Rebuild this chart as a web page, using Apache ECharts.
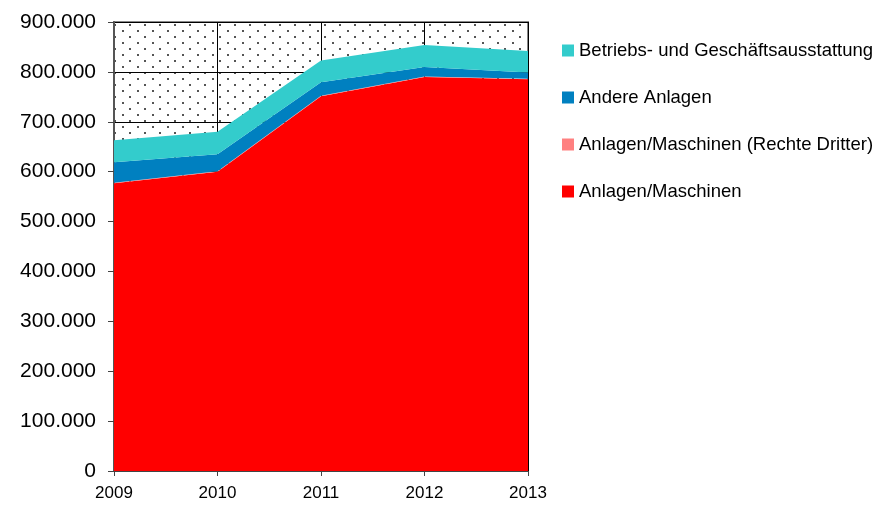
<!DOCTYPE html>
<html>
<head>
<meta charset="utf-8">
<script src="https://cdn.jsdelivr.net/npm/echarts@6/dist/echarts.min.js"></script>
<style>
html,body{margin:0;padding:0;background:#fff;}
#c{width:877px;height:509px;}
</style>
</head>
<body>
<div id="c"></div>
<script>
var years = ['2009', '2010', '2011', '2012', '2013'];
var anlagenMaschinen = [577000, 600000, 751000, 790000, 785000];
var rechteDritter = [1000, 1000, 1000, 1000, 1000];
var andereAnlagen = [41000, 34000, 27000, 19000, 13000];
var betriebsAusstattung = [44000, 45000, 44000, 44000, 43000];
var seriesNames = ['Anlagen/Maschinen', 'Anlagen/Maschinen (Rechte Dritter)', 'Andere Anlagen', 'Betriebs- und Geschäftsausstattung'];
var seriesColors = ['#FF0000', '#FF8080', '#0080C0', '#33CCCC'];
var seriesData = [anlagenMaschinen, rechteDritter, andereAnlagen, betriebsAusstattung];

function fmt(v) {
  return String(v).replace(/\B(?=(\d{3})+(?!\d))/g, '.');
}

var pc = document.createElement('canvas');
pc.width = 15; pc.height = 12;
var px = pc.getContext('2d');
px.fillStyle = '#ffffff';
px.fillRect(0, 0, 15, 12);
px.fillStyle = '#555555';
px.fillRect(9, 0, 2, 2);
px.fillRect(2, 6, 2, 2);

var chart = echarts.init(document.getElementById('c'), null, {renderer: 'canvas'});
var series = seriesNames.map(function (n, i) {
  return {
    name: n,
    type: 'line',
    stack: 'total',
    data: seriesData[i],
    symbol: 'none',
    showSymbol: false,
    lineStyle: {width: 0},
    itemStyle: {color: seriesColors[i]},
    areaStyle: {color: seriesColors[i], opacity: 1},
    emphasis: {disabled: true}
  };
});

chart.setOption({
  animation: false,
  textStyle: {fontFamily: 'Liberation Sans, Arial, sans-serif'},
  grid: {
    left: 114, right: 349, top: 22, bottom: 38,
    show: true,
    backgroundColor: {image: pc, repeat: 'repeat'},
    borderColor: '#888888',
    borderWidth: 2
  },
  legend: {
    orient: 'vertical',
    left: 562,
    top: 41,
    padding: 0,
    itemWidth: 12,
    itemHeight: 12,
    itemGap: 28,
    icon: 'rect',
    selectedMode: false,
    data: seriesNames.slice().reverse(),
    textStyle: {fontSize: 18.5, lineHeight: 18, color: '#000', fontFamily: 'Liberation Sans, Arial, sans-serif'}
  },
  xAxis: {
    type: 'category',
    data: years,
    boundaryGap: false,
    axisLine: {show: true, lineStyle: {color: '#444', width: 1}},
    axisTick: {show: true, inside: false, length: 5, lineStyle: {color: '#444'}},
    axisLabel: {fontSize: 17, color: '#000', margin: 14},
    splitLine: {show: true, lineStyle: {color: '#000', width: 1}}
  },
  yAxis: {
    type: 'value',
    min: 0,
    max: 900000,
    interval: 100000,
    axisLine: {show: true, lineStyle: {color: '#555', width: 2}},
    axisTick: {show: true, length: 6, lineStyle: {color: '#444'}},
    axisLabel: {fontSize: 21, color: '#000', margin: 18, formatter: fmt},
    splitLine: {show: true, lineStyle: {color: '#000', width: 1}}
  },
  series: series
});
</script>
</body>
</html>
